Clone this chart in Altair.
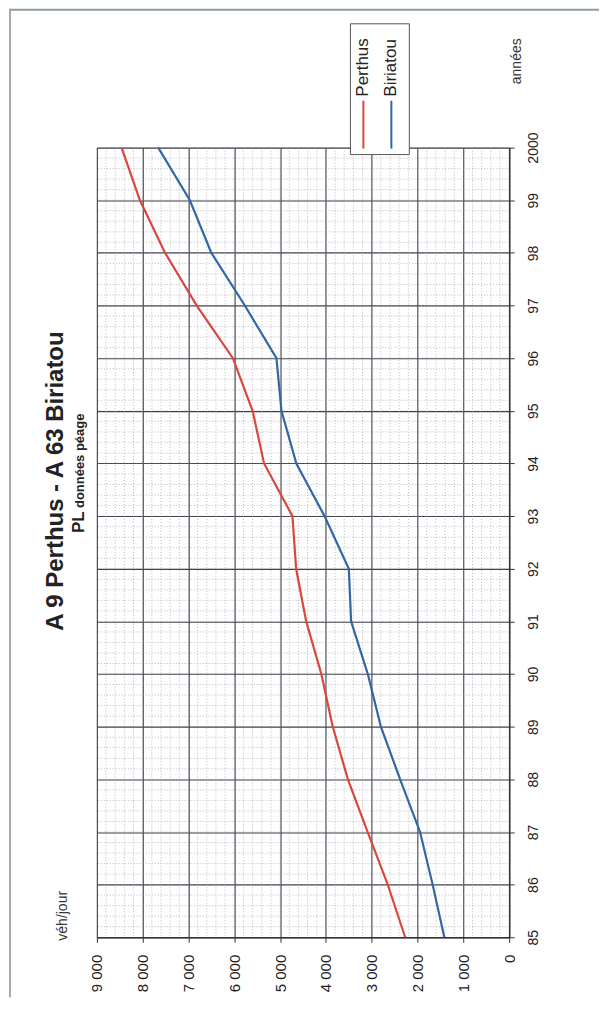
import altair as alt
import pandas as pd

# ---- data ----
years = [1985, 1986, 1987, 1988, 1989, 1990, 1991, 1992, 1993, 1994, 1995, 1996, 1997, 1998, 1999, 2000]
perthus = [2270, 2650, 3090, 3520, 3850, 4100, 4430, 4650, 4730, 5350, 5600, 6030, 6820, 7510, 8060, 8460]
biriatou = [1415, 1670, 1945, 2380, 2800, 3085, 3450, 3500, 4030, 4645, 4970, 5080, 5770, 6500, 6970, 7660]
series_names = ["Perthus", "Biriatou"]
series_colors = ["#d8483c", "#3366a6"]
value_ticks = [0, 1000, 2000, 3000, 4000, 5000, 6000, 7000, 8000, 9000]
minor_value_ticks = [v for v in range(200, 9000, 200)]
minor_year_ticks = [1985 + i * 0.2 for i in range(1, 75)]
title_text = "A 9 Perthus - A 63 Biriatou"
subtitle_parts = ["PL", "données péage"]

rows = []
for y, p, b in zip(years, perthus, biriatou):
    rows.append({"année": y, "valeur": p, "série": "Perthus"})
    rows.append({"année": y, "valeur": b, "série": "Biriatou"})
df = pd.DataFrame(rows)

FONT = "Liberation Sans"
W, H = 413, 791

xscale = alt.Scale(domain=[0, 9000], reverse=True, nice=False, zero=False)
yscale = alt.Scale(domain=[1985, 2000], nice=False, zero=False)

X_AXIS = alt.Axis(values=value_ticks, grid=True, gridColor="#3f3f4a", gridWidth=1.1,
                  labelExpr="replace(format(datum.value, ','), ',', ' ')",
                  labelAngle=270, labelAlign="right", labelBaseline="middle",
                  labelFont=FONT, labelFontSize=15, labelColor="#222",
                  labelPadding=12, tickSize=5, tickColor="#333",
                  domainColor="#333", domainWidth=1.5, orient="bottom",
                  title="véh/jour", titleFont=FONT, titleFontSize=14,
                  titleFontWeight="normal", titleColor="#333",
                  titleAngle=270, titleAlign="center", titleBaseline="middle",
                  titleX=-34, titleY=-22)
Y_AXIS = alt.Axis(values=years, grid=True, gridColor="#3f3f4a", gridWidth=1.1,
                  labelExpr="datum.value == 2000 ? '2000' : substring(toString(datum.value), 2, 4)",
                  labelAngle=270, labelAlign="center", labelBaseline="top",
                  labelFont=FONT, labelFontSize=14, labelColor="#222",
                  labelPadding=12, tickSize=5, tickColor="#333",
                  domainColor="#333", domainWidth=1.5, orient="right",
                  title="années", titleFont=FONT, titleFontSize=14,
                  titleFontWeight="normal", titleColor="#333",
                  titleAngle=270, titleAlign="center", titleBaseline="middle",
                  titleX=7, titleY=-87)

# minor dotted grid, drawn from the tick lists through the scales
minor_v = alt.Chart(pd.DataFrame({"v": minor_value_ticks})).mark_rule(
    color="#8a8a9a", strokeDash=[1, 2], strokeWidth=1, opacity=0.6).encode(
    x=alt.X("v:Q", scale=xscale, axis=X_AXIS))
minor_y = alt.Chart(pd.DataFrame({"t": minor_year_ticks})).mark_rule(
    color="#8a8a9a", strokeDash=[1, 2], strokeWidth=1, opacity=0.6).encode(
    y=alt.Y("t:Q", scale=yscale, axis=Y_AXIS))

lines = alt.Chart(df).mark_line(strokeWidth=2.2).encode(
    x=alt.X("valeur:Q", scale=xscale, axis=X_AXIS),
    y=alt.Y("année:Q", scale=yscale, axis=Y_AXIS),
    color=alt.Color("série:N", scale=alt.Scale(domain=series_names, range=series_colors), legend=None),
    order=alt.Order("année:Q"),
)

# title and subtitle (rotated like the whole figure)
title_mark = alt.Chart(pd.DataFrame({"t": [title_text]})).mark_text(
    angle=270, align="center", baseline="middle", font=FONT, fontSize=24,
    fontWeight="bold", color="#222").encode(
    x=alt.value(-41), y=alt.value(334), text="t:N")
sub_df = pd.DataFrame({"t": subtitle_parts})
sub_pl = alt.Chart(sub_df.iloc[[0]]).mark_text(
    angle=270, align="left", baseline="middle", font=FONT, fontSize=17,
    fontWeight="bold", color="#222").encode(
    x=alt.value(-18), y=alt.value(386), text="t:N")
sub_rest = alt.Chart(sub_df.iloc[[1]]).mark_text(
    angle=270, align="left", baseline="middle", font=FONT, fontSize=13,
    fontWeight="bold", color="#222").encode(
    x=alt.value(-17), y=alt.value(361), text="t:N")

# manual legend (rotated like the whole figure)
leg_box = alt.Chart(pd.DataFrame({"a": [0]})).mark_rect(
    fill="white", stroke="#555", strokeWidth=1).encode(
    x=alt.value(254), x2=alt.value(313), y=alt.value(-124), y2=alt.value(7))
leg_df = pd.DataFrame({"série": series_names, "lx": [267, 295]})
leg_lines = alt.Chart(leg_df).mark_rule(strokeWidth=2).encode(
    x=alt.X("lx:Q", scale=None), y=alt.value(-47), y2=alt.value(1),
    color=alt.Color("série:N", scale=alt.Scale(domain=series_names, range=series_colors), legend=None))
leg_text = alt.Chart(leg_df).mark_text(
    angle=270, align="left", baseline="middle", font=FONT, fontSize=17, color="#222").encode(
    x=alt.X("lx:Q", scale=None), y=alt.value(-51), text="série:N")

# page frame
frame_left = alt.Chart(pd.DataFrame({"a": [0]})).mark_rule(color="#8a8a8a", strokeWidth=1.5).encode(
    x=alt.value(-87), y=alt.value(-139), y2=alt.value(H + 60))
frame_top = alt.Chart(pd.DataFrame({"a": [0]})).mark_rule(color="#8aa090", strokeWidth=2).encode(
    x=alt.value(-87), x2=alt.value(W + 90), y=alt.value(-138))

chart = alt.layer(
    minor_v, minor_y, lines, title_mark, sub_pl, sub_rest,
    leg_box, leg_lines, leg_text, frame_left, frame_top
).properties(
    width=W, height=H,
    autosize=alt.AutoSizeParams(type="none"),
    padding={"left": 89, "top": 139, "right": 90, "bottom": 60},
).configure_view(
    fill="#f6f3f8", stroke="#333", strokeWidth=1.5
).configure(background="white")

chart.save("out.html", embed_options={"renderer": "svg", "actions": False})
